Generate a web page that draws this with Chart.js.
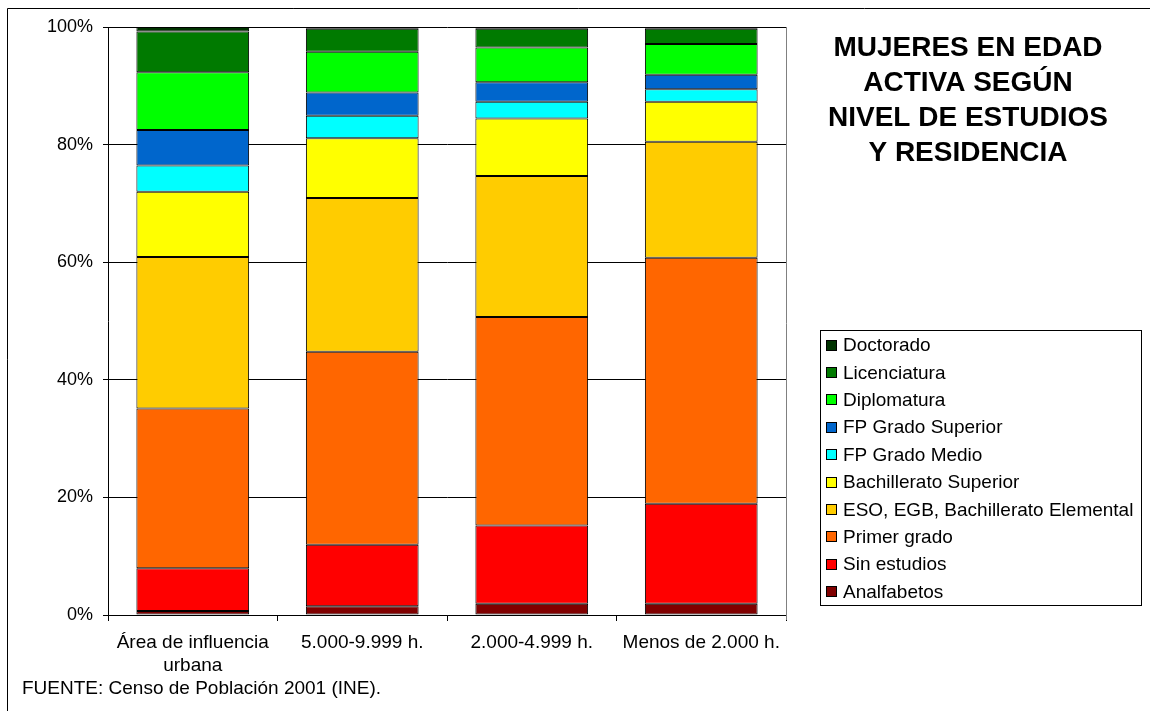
<!DOCTYPE html>
<html lang="es">
<head>
<meta charset="utf-8">
<title>Mujeres en edad activa según nivel de estudios y residencia</title>
<script src="https://cdn.jsdelivr.net/npm/chart.js@4/dist/chart.umd.min.js"></script>
<style>
  html, body { margin: 0; padding: 0; background: #fff; }
  #wrap { width: 1150px; height: 711px; position: relative; }
</style>
</head>
<body>
<div id="wrap"><canvas id="c" width="1150" height="711"></canvas></div>
<script>
// Categories (population size of the municipality)
const categories = [['Área de influencia', 'urbana'], '5.000-9.999 h.', '2.000-4.999 h.', 'Menos de 2.000 h.'];

// Share of women of working age by education level (% per category)
const analfabetos   = [0.7, 1.5, 1.9, 1.9];
const sinEstudios   = [7.25, 10.45, 13.3, 17.0];
const primerGrado   = [27.15, 32.8, 35.5, 41.85];
const esoEgb        = [25.8, 26.15, 23.95, 19.75];
const bachSuperior  = [11.1, 10.2, 9.8, 6.8];
const fpMedio       = [4.45, 3.8, 2.85, 2.1];
const fpSuperior    = [6.05, 3.95, 3.3, 2.5];
const diplomatura   = [9.8, 6.95, 5.9, 5.2];
const licenciatura  = [6.95, 3.9, 3.2, 2.6];
const doctorado     = [0.75, 0.3, 0.3, 0.3];

const yTicks = [0, 20, 40, 60, 80, 100];
const titleLines = ['MUJERES EN EDAD', 'ACTIVA SEGÚN', 'NIVEL DE ESTUDIOS', 'Y RESIDENCIA'];
const sourceText = 'FUENTE: Censo de Población 2001 (INE).';

const FONT = "'Liberation Sans', Arial, sans-serif";

const series = [
  { label: 'Analfabetos', data: analfabetos, color: '#800000' },
  { label: 'Sin estudios', data: sinEstudios, color: '#FF0000' },
  { label: 'Primer grado', data: primerGrado, color: '#FF6600' },
  { label: 'ESO, EGB, Bachillerato Elemental', data: esoEgb, color: '#FFCC00' },
  { label: 'Bachillerato Superior', data: bachSuperior, color: '#FFFF00' },
  { label: 'FP Grado Medio', data: fpMedio, color: '#00FFFF' },
  { label: 'FP Grado Superior', data: fpSuperior, color: '#0066CC' },
  { label: 'Diplomatura', data: diplomatura, color: '#00FF00' },
  { label: 'Licenciatura', data: licenciatura, color: '#007A00' },
  { label: 'Doctorado', data: doctorado, color: '#003300' }
];

// Frame, title, legend box and source note
const decorations = {
  id: 'decorations',
  beforeDraw(chart) {
    const ctx = chart.ctx;
    ctx.save();
    ctx.fillStyle = '#fff';
    ctx.fillRect(0, 0, chart.width, chart.height);
    ctx.strokeStyle = '#000';
    ctx.lineWidth = 1;
    ctx.beginPath();
    ctx.moveTo(7.5, chart.height);
    ctx.lineTo(7.5, 8.5);
    ctx.lineTo(chart.width, 8.5);
    ctx.stroke();
    ctx.restore();
  },
  afterDraw(chart) {
    const ctx = chart.ctx;
    const area = chart.chartArea;
    ctx.save();

    // right edge of the plot area
    ctx.strokeStyle = '#808080';
    ctx.lineWidth = 1;
    ctx.beginPath();
    ctx.moveTo(Math.round(area.right) + 0.5, area.top);
    ctx.lineTo(Math.round(area.right) + 0.5, area.bottom + 5);
    ctx.stroke();

    // title
    ctx.fillStyle = '#000';
    ctx.font = 'bold 28px ' + FONT;
    ctx.textAlign = 'center';
    ctx.textBaseline = 'middle';
    titleLines.forEach((t, i) => ctx.fillText(t, 968, 48.5 + i * 35));

    // legend
    const bx = 820.5, by = 330.5, bw = 321, bh = 275;
    ctx.strokeStyle = '#000';
    ctx.strokeRect(bx, by, bw, bh);
    ctx.font = '19px ' + FONT;
    ctx.textAlign = 'left';
    const items = chart.data.datasets.slice().reverse();
    items.forEach((ds, i) => {
      const cy = 345 + i * 27.4;
      ctx.fillStyle = ds.backgroundColor;
      ctx.fillRect(826, Math.round(cy - 5.5), 11, 11);
      ctx.strokeStyle = '#000';
      ctx.strokeRect(826.5, Math.round(cy - 5.5) + 0.5, 10, 10);
      ctx.fillStyle = '#000';
      ctx.fillText(ds.label, 843, cy + 1);
    });

    // source note
    ctx.font = '19px ' + FONT;
    ctx.fillText(sourceText, 22, 689);
    ctx.restore();
  }
};

new Chart(document.getElementById('c'), {
  type: 'bar',
  data: {
    labels: categories,
    datasets: series.map(s => ({
      label: s.label,
      data: s.data,
      backgroundColor: s.color,
      borderColor: '#000',
      borderWidth: 1,
      borderSkipped: false,
      barPercentage: 0.665,
      categoryPercentage: 1
    }))
  },
  options: {
    responsive: false,
    animation: false,
    layout: { padding: { top: 27, right: 364, left: 0, bottom: 0 } },
    plugins: {
      legend: { display: false },
      title: { display: false },
      tooltip: { enabled: false }
    },
    scales: {
      x: {
        stacked: true,
        border: { display: true, color: '#000', width: 1 },
        grid: { display: true, drawOnChartArea: false, drawTicks: true, tickLength: 6, color: '#000', offset: true },
        ticks: {
          color: '#000',
          font: { family: FONT, size: 19, lineHeight: 1.17 },
          padding: 11,
          maxRotation: 0,
          autoSkip: false
        },
        afterFit(scale) { scale.height = 96; }
      },
      y: {
        stacked: true,
        min: 0,
        max: 100,
        border: { display: true, color: '#000', width: 1 },
        grid: { color: '#000', lineWidth: 1, drawTicks: true, tickLength: 5 },
        afterBuildTicks(scale) { scale.ticks = yTicks.map(v => ({ value: v })); },
        ticks: {
          color: '#000',
          font: { family: FONT, size: 18 },
          padding: 10,
          callback: v => v + '%'
        },
        afterFit(scale) { scale.width = 108; }
      }
    }
  },
  plugins: [decorations]
});
</script>
</body>
</html>
